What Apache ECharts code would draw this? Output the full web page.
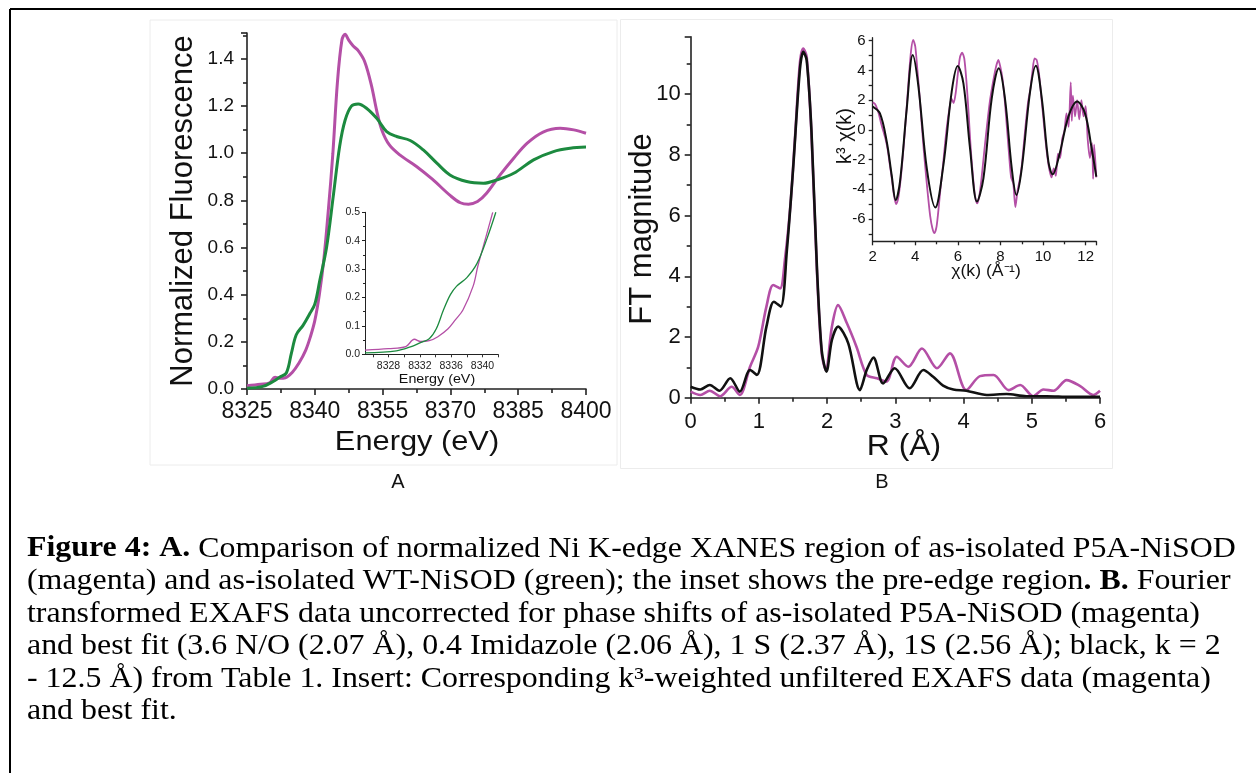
<!DOCTYPE html>
<html><head><meta charset="utf-8">
<script src="https://cdn.jsdelivr.net/npm/echarts@6/dist/echarts.min.js"></script>
<style>html,body{margin:0;padding:0;background:#fff}#c{width:1256px;height:773px}</style>
</head><body><div id="c"></div>
<script>
// ---------- Panel A : XANES (main) ----------
const xanesEnergyP5A = [8325,8328,8330,8331.2,8332.2,8333.5,8335,8336.5,8338,8339,8340,8341,8342,8343,8344,8345,8346,8346.7,8347.5,8348.5,8349.6,8351,8352.5,8353.7,8354.8,8356.5,8358.8,8362.5,8366,8370,8372.2,8374,8376,8378,8381,8384,8387,8390.5,8394.3,8397.3,8400];
const xanesP5A = [0.014,0.02,0.026,0.05,0.046,0.048,0.07,0.11,0.165,0.22,0.29,0.40,0.55,0.76,1.0,1.3,1.48,1.505,1.48,1.455,1.435,1.39,1.29,1.18,1.10,1.035,0.993,0.944,0.89,0.82,0.79,0.784,0.795,0.83,0.908,0.979,1.043,1.09,1.106,1.099,1.085];
const xanesEnergyWT = [8325,8328.5,8330.8,8332.2,8333.7,8334.8,8335.9,8337.4,8338.9,8340,8341.1,8342.6,8344.1,8345.5,8346.7,8348.1,8349.6,8351.5,8353.7,8355.9,8358.1,8361.1,8364,8367,8369.9,8373.6,8377.3,8380.3,8384,8388.4,8392.8,8396.5,8400];
const xanesWT = [0.003,0.011,0.032,0.05,0.068,0.15,0.23,0.27,0.32,0.36,0.46,0.60,0.82,1.03,1.14,1.20,1.209,1.19,1.148,1.092,1.071,1.054,1.014,0.958,0.908,0.880,0.873,0.887,0.915,0.972,1.007,1.021,1.026];

// ---------- Panel A : pre-edge inset ----------
const preEnergyP5A = [8325,8328,8330.2,8331.3,8332.1,8333.2,8334.3,8335.6,8336.5,8337.5,8338.8,8339.4,8340.4,8341.3];
const preP5A = [0.015,0.02,0.027,0.053,0.045,0.048,0.062,0.09,0.12,0.156,0.24,0.31,0.41,0.5];
const preEnergyWT = [8325,8329,8330.8,8332,8333.2,8334.1,8335,8335.9,8336.7,8338,8339.3,8340.6,8341.7];
const preWT = [0.005,0.012,0.026,0.04,0.055,0.09,0.155,0.21,0.24,0.27,0.32,0.41,0.5];
const preXLabels = [8328,8332,8336,8340];
const preXTicks = [8326,8328,8330,8332,8334,8336,8338,8340,8342];

// ---------- Panel B : FT magnitude ----------
const ftRData = [0,0.14,0.28,0.43,0.6,0.72,0.87,0.99,1.11,1.21,1.31,1.38,1.46,1.53,1.6,1.65,1.7,1.77,1.85,1.92,1.98,2.07,2.16,2.29,2.43,2.58,2.73,2.87,3.02,3.19,3.39,3.61,3.8,4.04,4.24,4.44,4.66,4.83,5.02,5.17,5.32,5.51,5.71,5.9,6.0];
const ftData = [0.2,0.09,0.23,0.05,0.36,0.09,1.02,1.68,3.0,3.71,3.6,4.53,6.29,8.6,11.0,11.5,11.23,8.7,4.2,1.46,0.91,2.34,3.05,2.45,1.68,0.75,0.64,0.53,1.35,1.02,1.62,0.97,1.46,0.25,0.71,0.75,0.25,0.42,0.05,0.27,0.23,0.58,0.38,0.09,0.23];
const ftRFit = [0,0.14,0.28,0.42,0.58,0.72,0.87,0.97,1.11,1.22,1.32,1.41,1.5,1.6,1.65,1.7,1.77,1.85,1.92,1.99,2.07,2.16,2.31,2.48,2.58,2.68,2.82,2.99,3.21,3.41,3.55,3.7,3.85,4.04,4.34,4.63,4.92,5.22,5.56,6.0];
const ftFit = [0.36,0.27,0.42,0.23,0.64,0.2,0.91,0.75,2.34,3.16,3.0,4.86,7.5,10.8,11.39,11.12,8.8,4.31,1.57,0.86,1.9,2.34,1.79,0.25,0.91,1.32,0.47,0.97,0.31,0.91,0.7,0.4,0.27,0.23,0.09,0.12,0.05,0.05,0.03,0.03];

// ---------- Panel B : k^3 chi(k) inset ----------
const kData = [2.0,2.1,2.2,2.3,2.4,2.5,2.6,2.7,2.8,2.9,3.0,3.1,3.2,3.3,3.4,3.5,3.6,3.7,3.8,3.9,4.0,4.1,4.2,4.3,4.4,4.5,4.6,4.7,4.8,4.9,5.0,5.1,5.2,5.3,5.4,5.5,5.6,5.7,5.8,5.9,6.0,6.1,6.2,6.3,6.4,6.5,6.6,6.7,6.8,6.9,7.0,7.1,7.2,7.3,7.4,7.5,7.6,7.7,7.8,7.9,8.0,8.1,8.2,8.3,8.4,8.5,8.6,8.7,8.8,8.9,9.0,9.1,9.2,9.3,9.4,9.5,9.6,9.7,9.8,9.9,10.0,10.1,10.2,10.3,10.4,10.5,10.6,10.7,10.8,10.9,11.0,11.1,11.2,11.3,11.35,11.4,11.5,11.6,11.7,11.8,11.9,12.0,12.1,12.2,12.3,12.35,12.4,12.5];
const chiData = [1.85,1.75,1.45,1.0,0.4,-0.1,-0.6,-1.3,-2.3,-3.3,-4.4,-5.0,-4.6,-3.5,-2.0,-0.3,1.6,3.6,5.3,6.05,5.6,4.0,2.3,0.4,-1.4,-3.0,-4.5,-5.8,-6.6,-6.95,-6.5,-5.2,-3.7,-2.4,-0.9,0.4,1.4,2.1,1.8,2.5,3.8,4.9,5.2,4.8,3.3,1.2,-1.2,-3.0,-4.4,-4.95,-4.5,-3.4,-2.0,-0.6,0.7,1.9,2.8,3.6,4.3,4.7,4.2,3.4,2.0,0.2,-1.6,-3.2,-3.6,-5.2,-4.1,-3.4,-2.4,-0.9,0.6,1.9,2.7,3.9,4.8,4.7,3.9,2.5,1.0,-0.5,-1.8,-2.7,-3.2,-2.6,-3.1,-1.6,-1.9,-0.6,-0.1,1.1,0.2,3.2,0.6,2.3,0.9,2.0,0.7,2.0,0.9,1.6,-0.7,-1.9,-0.9,-3.3,-1.0,-3.2];
const kFit = [2,2.34,2.66,2.89,3.08,3.28,3.6,3.88,4.14,4.54,4.94,5.32,5.71,5.99,6.26,6.57,6.9,7.2,7.59,7.92,8.21,8.53,8.75,9.0,9.39,9.66,9.94,10.25,10.45,10.8,11.19,11.6,11.97,12.28,12.5];
const chiFit = [1.56,1.1,-0.8,-3.04,-4.72,-3.5,1.45,5.03,3.0,-2.6,-5.23,-2.37,2.57,4.29,3.13,-1.24,-4.83,-3.26,2.12,4.14,2.12,-2.59,-4.38,-2.59,2.57,4.32,2.12,-2.14,-2.99,-1.47,0.89,1.9,1.11,-1.24,-3.15];
const chiYLabels = [-6,-4,-2,0,2,4,6];
const chiYTicks = [-7,-6,-5,-4,-3,-2,-1,0,1,2,3,4,5,6];

// ---------- Caption ----------
const captionLines = [
  '{b|Figure 4: A.} Comparison of normalized Ni K-edge XANES region of as-isolated P5A-NiSOD',
  '(magenta) and as-isolated WT-NiSOD (green); the inset shows the pre-edge region{b|. B.} Fourier',
  'transformed EXAFS data uncorrected for phase shifts of as-isolated P5A-NiSOD (magenta)',
  'and best fit (3.6 N/O (2.07 Å), 0.4 Imidazole (2.06 Å), 1 S (2.37 Å), 1S (2.56 Å); black, k = 2',
  '- 12.5 Å) from Table 1. Insert: Corresponding k³-weighted unfiltered EXAFS data (magenta)',
  'and best fit.'
];

const MAG = '#B44FA6', GRN = '#1C8A3F', BLK = '#111111';
const SANS = '"Liberation Sans", Arial, sans-serif';
const SERIF = '"Liberation Serif", "Times New Roman", serif';
const zip = (a, b) => a.map((v, i) => [v, b[i]]);
const isMult = (v, s) => Math.abs(v / s - Math.round(v / s)) < 1e-6;

function axisBase(fs, margin, tickLen, minorLen, lw) {
  return {
    axisLine: {onZero: false, lineStyle: {color: '#222', width: lw}},
    axisTick: {length: tickLen, lineStyle: {color: '#222', width: lw}},
    minorTick: {show: minorLen > 0, splitNumber: 2, length: minorLen, lineStyle: {color: '#222', width: lw}},
    splitLine: {show: false},
    minorSplitLine: {show: false},
    axisLabel: {fontSize: fs, color: '#111', margin: margin, fontFamily: SANS}
  };
}
function merge(a, b) {
  const o = Object.assign({}, a);
  for (const k in b) {
    if (b[k] && typeof b[k] === 'object' && !Array.isArray(b[k]) && a[k]) o[k] = Object.assign({}, a[k], b[k]);
    else o[k] = b[k];
  }
  return o;
}

const chart = echarts.init(document.getElementById('c'), null, {renderer: 'canvas'});

// grid geometry
const gA = {left: 247, top: 33, width: 339, height: 356};
const gAi = {left: 365, top: 212.3, width: 133.2, height: 142};
const gB = {left: 690.7, top: 36.7, width: 409.3, height: 361};
const gBi = {left: 872.7, top: 37.7, width: 223.6, height: 203.6};

const graphics = [];
// frame
graphics.push({type: 'line', shape: {x1: 10, y1: 9, x2: 1256, y2: 9}, style: {stroke: '#000', lineWidth: 2}});
graphics.push({type: 'line', shape: {x1: 10, y1: 9, x2: 10, y2: 773}, style: {stroke: '#000', lineWidth: 2}});
// faint panel boxes
graphics.push({type: 'rect', shape: {x: 150, y: 20, width: 467, height: 445}, style: {fill: null, stroke: '#ececec', lineWidth: 1}, z: -1});
graphics.push({type: 'rect', shape: {x: 620.5, y: 19.5, width: 492, height: 449}, style: {fill: null, stroke: '#ececec', lineWidth: 1}, z: -1});

function txt(text, x, y, size, opts) {
  opts = opts || {};
  return {
    type: 'text', x: x, y: y, rotation: opts.rot || 0, scaleX: opts.sx || 1, z: 10,
    style: {text: text, fontSize: size, fontFamily: opts.family || SANS, fontWeight: opts.weight || 'normal',
      fill: opts.fill || '#111', align: opts.align || 'center', verticalAlign: opts.va || 'middle', rich: opts.rich}
  };
}
// axis titles
graphics.push(txt('Normalized Fluorescence', 183, 211, 31, {rot: Math.PI / 2}));
graphics.push(txt('Energy (eV)', 417, 442, 28, {sx: 1.1}));
graphics.push(txt('Energy (eV)', 437, 379, 13, {sx: 1.1}));
graphics.push(txt('FT magnitude', 642, 229, 31, {rot: Math.PI / 2}));
graphics.push(txt('R (Å)', 904, 447, 29, {sx: 1.1}));
graphics.push(txt('k³ χ(k)', 845, 136, 20, {rot: Math.PI / 2}));
graphics.push(txt('χ(k) (Å⁻¹)', 986, 272, 16, {sx: 1.1}));
graphics.push(txt('A', 398, 482, 20));
graphics.push(txt('B', 882, 482, 20));
// caption
const capRich = {b: {fontFamily: SERIF, fontSize: 29, fontWeight: 'bold', fill: '#000'}};
captionLines.forEach((line, i) => {
  graphics.push(txt(line, 27, 549 + i * 32.5, 29, {family: SERIF, align: 'left', sx: 1.1, fill: '#000', rich: capRich}));
});

const plain = v => String(v);

const option = {
  animation: false,
  backgroundColor: '#ffffff',
  grid: [gA, gAi, gB, gBi].map(g => Object.assign({containLabel: false}, g)),
  xAxis: [
    merge(axisBase(23, 11, 6, 4, 1.6), {gridIndex: 0, type: 'value', min: 8325, max: 8400, interval: 15,
      axisLabel: {fontSize: 23, color: '#111', margin: 11, fontFamily: SANS, formatter: plain}}),
    merge(axisBase(10.5, 6, 3, 0, 1), {gridIndex: 1, type: 'value', min: 8325, max: 8342,
      axisTick: {length: 3, customValues: preXTicks, lineStyle: {color: '#333', width: 1}},
      axisLabel: {fontSize: 10.5, color: '#222', margin: 6, fontFamily: SANS, customValues: preXLabels, formatter: plain}}),
    merge(axisBase(22, 13, 6, 4, 1.6), {gridIndex: 2, type: 'value', min: 0, max: 6, interval: 1,
      axisLabel: {fontSize: 22, color: '#111', margin: 13, fontFamily: SANS, formatter: plain}}),
    merge(axisBase(15, 8, 4, 3, 1.3), {gridIndex: 3, type: 'value', min: 2, max: 12.5, interval: 2,
      axisLabel: {fontSize: 15, color: '#111', margin: 8, fontFamily: SANS, formatter: v => isMult(v, 2) ? String(v) : ''}})
  ],
  yAxis: [
    merge(axisBase(19, 13, 6, 4, 1.6), {gridIndex: 0, type: 'value', min: 0, max: 1.51, interval: 0.2,
      axisLabel: {fontSize: 19, color: '#111', margin: 13, fontFamily: SANS, formatter: v => isMult(v, 0.2) ? v.toFixed(1) : ''}}),
    merge(axisBase(10.5, 5, 3, 2, 1), {gridIndex: 1, type: 'value', min: 0, max: 0.5, interval: 0.1,
      axisLabel: {fontSize: 10.5, color: '#222', margin: 5, fontFamily: SANS, formatter: v => v.toFixed(1)}}),
    merge(axisBase(22, 10, 6, 4, 1.6), {gridIndex: 2, type: 'value', min: 0, max: 11.89, interval: 2,
      axisLabel: {fontSize: 22, color: '#111', margin: 10, fontFamily: SANS, formatter: v => isMult(v, 2) ? String(v) : ''}}),
    merge(axisBase(15, 7, 4, 0, 1.3), {gridIndex: 3, type: 'value', min: -7.5, max: 6.2,
      axisTick: {length: 4, customValues: chiYTicks, lineStyle: {color: '#222', width: 1.3}},
      axisLabel: {fontSize: 15, color: '#111', margin: 7, fontFamily: SANS, customValues: chiYLabels, formatter: plain}})
  ],
  series: [
    {type: 'line', xAxisIndex: 0, yAxisIndex: 0, data: zip(xanesEnergyP5A, xanesP5A), smooth: 0.35, showSymbol: false, lineStyle: {color: MAG, width: 3}, clip: false},
    {type: 'line', xAxisIndex: 0, yAxisIndex: 0, data: zip(xanesEnergyWT, xanesWT), smooth: 0.35, showSymbol: false, lineStyle: {color: GRN, width: 3}, clip: false},
    {type: 'line', xAxisIndex: 1, yAxisIndex: 1, data: zip(preEnergyP5A, preP5A), smooth: 0.35, showSymbol: false, lineStyle: {color: MAG, width: 1.3}},
    {type: 'line', xAxisIndex: 1, yAxisIndex: 1, data: zip(preEnergyWT, preWT), smooth: 0.35, showSymbol: false, lineStyle: {color: GRN, width: 1.3}},
    {type: 'line', xAxisIndex: 2, yAxisIndex: 2, data: zip(ftRData, ftData), smooth: 0.3, showSymbol: false, lineStyle: {color: MAG, width: 2.6}, clip: false},
    {type: 'line', xAxisIndex: 2, yAxisIndex: 2, data: zip(ftRFit, ftFit), smooth: 0.3, showSymbol: false, lineStyle: {color: BLK, width: 2.6}, clip: false},
    {type: 'line', xAxisIndex: 3, yAxisIndex: 3, data: zip(kData, chiData), smooth: 0.25, showSymbol: false, lineStyle: {color: MAG, width: 1.8}},
    {type: 'line', xAxisIndex: 3, yAxisIndex: 3, data: zip(kFit, chiFit), smooth: 0.35, showSymbol: false, lineStyle: {color: BLK, width: 2}}
  ],
  graphic: graphics
};
chart.setOption(option);
</script></body></html>
